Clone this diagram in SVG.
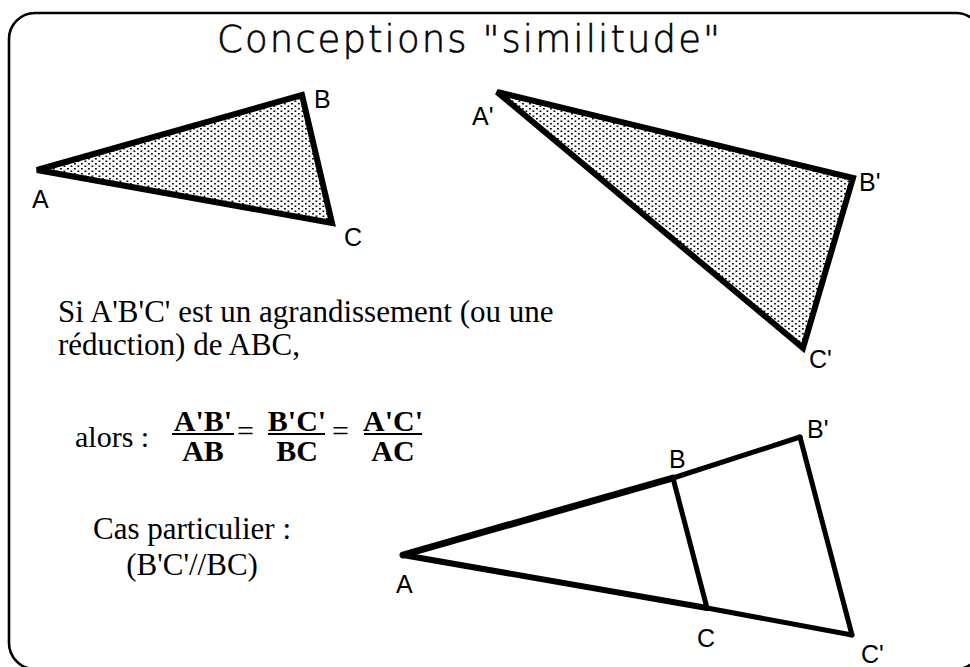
<svg xmlns="http://www.w3.org/2000/svg" width="970" height="667" viewBox="0 0 970 667">
<defs>
<pattern id="dots" width="7" height="5" patternUnits="userSpaceOnUse">
<rect x="0.5" y="0.5" width="1.8" height="1.5" fill="#000"/>
<rect x="4" y="3" width="1.8" height="1.5" fill="#000"/>
</pattern>
<style>
.lbl{font-family:"Liberation Sans",Arial,sans-serif;font-size:25px;fill:#000}
.txt{font-family:"Liberation Serif","Times New Roman",serif;font-size:31px;fill:#000}
.frac{font-family:"Liberation Serif","Times New Roman",serif;font-size:30px;font-weight:bold;fill:#000;text-anchor:middle}
.eq{font-family:"Liberation Serif","Times New Roman",serif;font-size:30px;fill:#000}
.tri{stroke:#000;stroke-linejoin:miter;stroke-linecap:round}
.bar{stroke:#000;stroke-width:2}
</style>
</defs>
<rect width="970" height="667" fill="#fff"/>
<rect id="frame" x="9" y="13" width="973" height="656" rx="26" ry="26" fill="none" stroke="#000" stroke-width="2.6"/>
<g id="title">
<text x="217" y="52" textLength="503" lengthAdjust="spacing" style="font-family:'DejaVu Sans','Liberation Sans',sans-serif;font-weight:200;font-size:37px" fill="#000" stroke="#000" stroke-width="0.6">Conceptions "similitude"</text>
</g>
<g id="triangle-ABC">
<polygon class="tri" points="37,170 302,95 332,223" fill="url(#dots)" stroke-width="6"/>
<text class="lbl" x="32" y="208">A</text>
<text class="lbl" x="314" y="108">B</text>
<text class="lbl" x="344" y="246">C</text>
</g>
<g id="triangle-A1B1C1">
<polygon class="tri" points="497,92 853,178 803,348" fill="url(#dots)" stroke-width="6"/>
<text class="lbl" x="472" y="125">A'</text>
<text class="lbl" x="859" y="191">B'</text>
<text class="lbl" x="809" y="368">C'</text>
</g>
<g id="statement">
<text class="txt" x="58" y="322">Si A'B'C' est un agrandissement (ou une</text>
<text class="txt" x="58" y="355">réduction) de ABC,</text>
</g>
<g id="formula">
<text class="txt" x="75" y="447" style="font-size:30px">alors :</text>
<text class="frac" x="203" y="431">A'B'</text>
<line class="bar" x1="172" y1="434" x2="234" y2="434"/>
<text class="frac" x="203" y="461">AB</text>
<text class="eq" x="237" y="441">=</text>
<text class="frac" x="297" y="431">B'C'</text>
<line class="bar" x1="268" y1="434" x2="325" y2="434"/>
<text class="frac" x="297" y="461">BC</text>
<text class="eq" x="332" y="441">=</text>
<text class="frac" x="393" y="431">A'C'</text>
<line class="bar" x1="364" y1="434" x2="422" y2="434"/>
<text class="frac" x="393" y="461">AC</text>
</g>
<g id="special-case">
<text class="txt" x="192" y="539" text-anchor="middle">Cas particulier :</text>
<text class="txt" x="192" y="575" text-anchor="middle">(B'C'//BC)</text>
</g>
<g id="thales-figure">
<line class="tri" x1="403" y1="555" x2="673" y2="478" stroke-width="7"/>
<line class="tri" x1="673" y1="478" x2="800" y2="437" stroke-width="5"/>
<line class="tri" x1="800" y1="437" x2="852" y2="635" stroke-width="5"/>
<line class="tri" x1="403" y1="555" x2="707" y2="608" stroke-width="6"/>
<line class="tri" x1="707" y1="608" x2="852" y2="635" stroke-width="5"/>
<line class="tri" x1="673" y1="478" x2="707" y2="608" stroke-width="5"/>
<text class="lbl" x="396" y="593">A</text>
<text class="lbl" x="669" y="468">B</text>
<text class="lbl" x="807" y="438">B'</text>
<text class="lbl" x="697" y="647">C</text>
<text class="lbl" x="861" y="663">C'</text>
</g>
</svg>
